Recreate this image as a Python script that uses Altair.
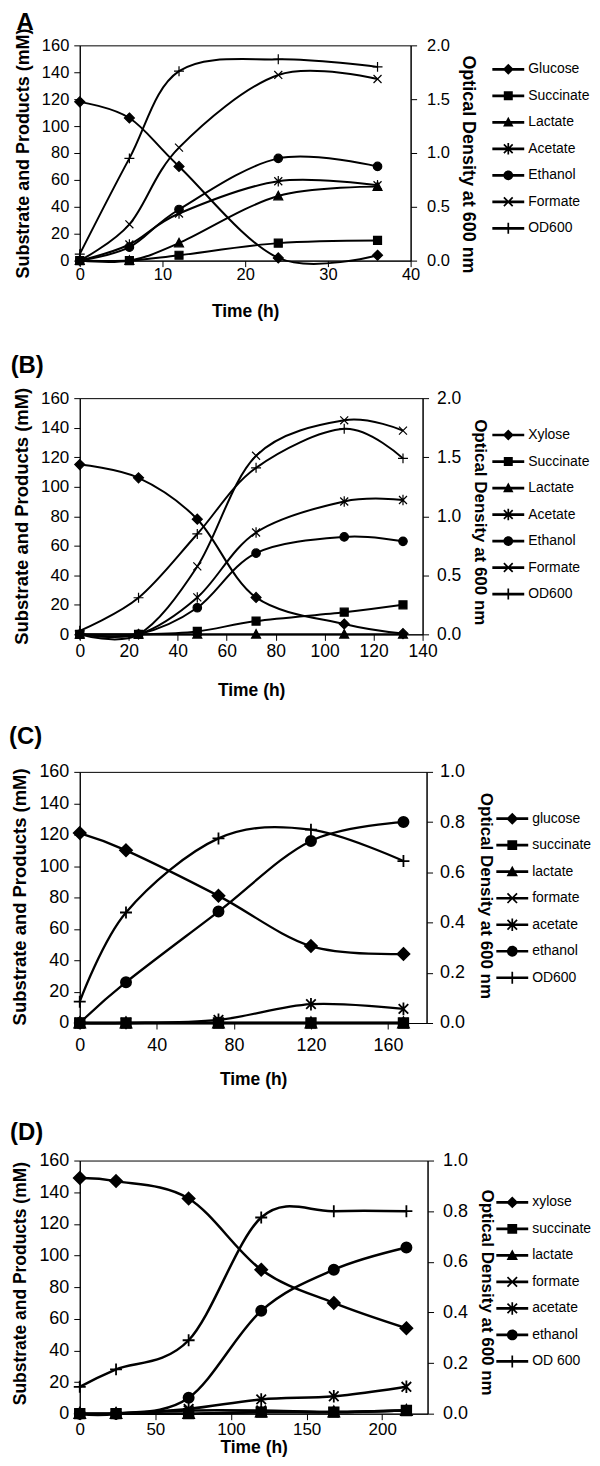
import altair as alt
import pandas as pd

FONT = "Liberation Sans"

# ---------------- data ----------------
# Panel A
a_time = [0, 6, 12, 24, 36]
a_names = ["Glucose", "Succinate", "Lactate", "Acetate", "Ethanol", "Formate", "OD600"]
a_glucose = [118, 106, 70, 2, 4]
a_succinate = [0, 0, 4, 13, 15]
a_lactate = [0, 0, 13, 48, 55]
a_acetate = [0, 12, 35, 59, 56]
a_ethanol = [0, 10, 38, 76, 70]
a_formate = [0, 27, 84, 138, 135]
a_od600 = [0.06, 0.95, 1.76, 1.87, 1.80]

# Panel B
b_time = [0, 24, 48, 72, 108, 132]
b_names = ["Xylose", "Succinate", "Lactate", "Acetate", "Ethanol", "Formate", "OD600"]
b_xylose = [115, 106, 78, 25, 7, 0.5]
b_succinate = [0, 0, 2, 9, 15, 20]
b_lactate = [0, 0, 0, 0, 0, 0]
b_acetate = [0, 0, 25, 69, 90, 91]
b_ethanol = [0, 0, 18, 55, 66, 63]
b_formate = [0, 0, 46, 121, 145, 138]
b_od600 = [0.03, 0.31, 0.85, 1.41, 1.74, 1.49]

# Panel C
c_time = [0, 24, 72, 120, 168]
c_names = ["glucose", "succinate", "lactate", "formate", "acetate", "ethanol", "OD600"]
c_glucose = [121, 110, 81, 49, 44]
c_succinate = [0, 0, 0, 0, 0]
c_lactate = [0, 0, 0, 0, 0]
c_formate = [0, 0, 0, 0, 0]
c_acetate = [0, 0, 2, 12, 9]
c_ethanol = [0, 26, 71, 116, 128]
c_od600 = [0.085, 0.44, 0.735, 0.77, 0.645]

# Panel D
d_time = [0, 24, 72, 120, 168, 216]
d_names = ["xylose", "succinate", "lactate", "formate", "acetate", "ethanol", "OD 600"]
d_xylose = [149, 147, 136, 91, 70, 54]
d_succinate = [0, 0, 0, 1, 1, 2]
d_lactate = [0, 0, 0, 1, 1, 2]
d_formate = [0, 0, 2, 2, 1, 2]
d_acetate = [0, 0, 3, 9, 11, 17]
d_ethanol = [0, 0, 10, 65, 91, 105]
d_od600 = [0.106, 0.175, 0.29, 0.775, 0.80, 0.80]

# ---------------- marker shapes (plot) ----------------
PLAIN = {
    "diamond": "M0,-1L1,0L0,1L-1,0Z",
    "square": "M-0.8,-0.8H0.8V0.8H-0.8Z",
    "triangle": "M0,-0.95L0.9,0.75H-0.9Z",
    "circle": "M-0.85,0A0.85,0.85 0 1,0 0.85,0A0.85,0.85 0 1,0 -0.85,0Z",
    "x": "M-0.8,-0.8L0.8,0.8M-0.8,0.8L0.8,-0.8",
    "ast": "M-0.8,-0.8L0.8,0.8M-0.8,0.8L0.8,-0.8M0,-1.05L0,1.05",
    "plus": "M-1,0H1M0,-1V1",
}

# ---------------- legend symbols: line + marker, all filled polygons ----------------
LEG_BOX = 26.6
LEG_SIZE = LEG_BOX ** 2
LEG_UNIT = LEG_BOX / 2.0        # px per path unit


def f(v):
    return f"{v:.3f}"


def bar(x1, y1, x2, y2, t):
    dx, dy = x2 - x1, y2 - y1
    ln = (dx * dx + dy * dy) ** 0.5
    nx, ny = -dy / ln * t, dx / ln * t
    pts = [(x1 - nx, y1 - ny), (x2 - nx, y2 - ny), (x2 + nx, y2 + ny), (x1 + nx, y1 + ny)]
    area = 0
    for i in range(4):
        xa, ya = pts[i]
        xb, yb = pts[(i + 1) % 4]
        area += xa * yb - xb * ya
    if area < 0:
        pts = pts[::-1]
    return "M" + "L".join(f"{f(x)},{f(y)}" for x, y in pts) + "Z"


def legend_path(kind, r):
    half_line = 16.0 / LEG_UNIT
    t_line = 1.35 / LEG_UNIT
    t_mk = 0.85 / LEG_UNIT
    ln = bar(-half_line, 0, half_line, 0, t_line)
    if kind == "diamond":
        return f"{ln}M0,{f(-r)}L{f(r)},0L0,{f(r)}L{f(-r)},0Z"
    if kind == "square":
        s = 0.82 * r
        return f"{ln}M{f(-s)},{f(-s)}H{f(s)}V{f(s)}H{f(-s)}Z"
    if kind == "triangle":
        return f"{ln}M0,{f(-1.0 * r)}L{f(0.95 * r)},{f(0.75 * r)}H{f(-0.95 * r)}Z"
    if kind == "circle":
        c = 0.9 * r
        return f"{ln}M{f(-c)},0A{f(c)},{f(c)} 0 1,1 {f(c)},0A{f(c)},{f(c)} 0 1,1 {f(-c)},0Z"
    s = 0.8 * r
    if kind == "x":
        return ln + bar(-s, -s, s, s, t_mk) + bar(s, -s, -s, s, t_mk)
    if kind == "ast":
        return (ln + bar(-s, -s, s, s, t_mk) + bar(s, -s, -s, s, t_mk)
                + bar(0, -1.05 * r, 0, 1.05 * r, t_mk))
    return ln + bar(0, -r, 0, r, t_mk)


def make_panel(p):
    names = p["names"]
    rows = []
    for n, vals in zip(names[:-1], p["series"]):
        for t, v in zip(p["times"], vals):
            rows.append({"time": t, "series": n, "value": v})
    left_df = pd.DataFrame(rows)
    od_df = pd.DataFrame({"time": p["times"], "series": [names[-1]] * len(p["times"]),
                          "od": p["od"]})

    plain = [PLAIN[k] for k in p["kinds"]]
    leg = [legend_path(k, p["lr"] / LEG_UNIT) for k in p["kinds"]]
    w, h = p["w"], p["h"]

    xenc = alt.X("time:Q",
                 scale=alt.Scale(domain=[0, p["xmax"]], nice=False, zero=True),
                 axis=alt.Axis(values=p["xticks"], title="Time (h)",
                               titlePadding=p["xt_pad"], tickSize=6,
                               labelPadding=p["xlp"], labelFlush=False,
                               labelFontSize=p["xfs"], titleFontSize=17.5))
    ly_enc = alt.Y("value:Q",
                   scale=alt.Scale(domain=[0, 160], nice=False),
                   axis=alt.Axis(values=list(range(0, 161, 20)), orient="left",
                                 title="Substrate and Products (mM)", tickSize=6,
                                 labelPadding=5, titlePadding=9,
                                 labelFontSize=p["lfs"], titleFontSize=p["ltfs"],
                                 titleY=p["lty"]))
    shp = alt.Shape("series:N", scale=alt.Scale(domain=names, range=plain), legend=None)

    base_l = alt.Chart(left_df)
    left = alt.layer(
        base_l.mark_line(interpolate="cardinal", color="black", strokeWidth=p["lw"])
        .encode(x=xenc, y=ly_enc, detail="series:N"),
        base_l.mark_point(filled=True, color="black", stroke="black",
                          strokeWidth=p["mstroke"], size=p["msize"], opacity=1)
        .encode(x=xenc, y=ly_enc, shape=shp),
    )

    ry_enc = alt.Y("od:Q",
                   scale=alt.Scale(domain=[0, p["odmax"]], nice=False),
                   axis=alt.Axis(values=p["odticks"], orient="right", format=".1f",
                                 title="Optical Density at 600 nm", tickSize=6,
                                 labelPadding=p["rlp"], titlePadding=p["rtp"],
                                 labelFontSize=p["rfs"], titleFontSize=p["rtfs"],
                                 titleY=p["rty"]))
    base_r = alt.Chart(od_df)
    right = alt.layer(
        base_r.mark_line(interpolate="cardinal", color="black", strokeWidth=p["lw"])
        .encode(x=xenc, y=ry_enc),
        base_r.mark_point(filled=True, color="black", stroke="black",
                          strokeWidth=p["mstroke"], size=p["msize"], opacity=1)
        .encode(x=xenc, y=ry_enc, shape=shp),
    )

    legend_layer = (
        alt.Chart(left_df)
        .transform_filter("false")
        .mark_point(filled=True, color="black", strokeWidth=0, size=LEG_SIZE, opacity=1)
        .encode(shape=alt.Shape(
            "series:N",
            scale=alt.Scale(domain=names, range=leg),
            legend=alt.Legend(orient="none", legendX=p["lx"], legendY=p["ly"], title=None,
                              labelFont=FONT, labelFontSize=14, labelColor="black",
                              symbolSize=LEG_SIZE, symbolFillColor="black",
                              symbolStrokeWidth=0, symbolOpacity=1,
                              rowPadding=5.6, columnPadding=0, labelOffset=6.5,
                              padding=0, symbolOffset=0)))
    )

    return (
        alt.layer(left, right, legend_layer)
        .resolve_scale(y="independent", shape="independent")
        .properties(width=w, height=h,
                    title=alt.TitleParams(text=p["label"], anchor="start", fontSize=24,
                                          fontWeight="bold", font=FONT, color="black",
                                          dx=p["tdx"], offset=p["toff"]))
    )


panel_a = make_panel(dict(
    label="A", tdx=2, toff=-7.5, times=a_time, names=a_names,
    series=[a_glucose, a_succinate, a_lactate, a_acetate, a_ethanol, a_formate],
    od=a_od600, kinds=["diamond", "square", "triangle", "ast", "circle", "x", "plus"],
    xmax=40, xticks=[0, 10, 20, 30, 40], odmax=2.0, odticks=[0, 0.5, 1.0, 1.5, 2.0],
    w=332, h=216, lx=416.5, ly=10.5, lr=5.5, msize=100, mstroke=1.2, lw=2.0,
    xlp=0, xt_pad=20,
    xfs=16.5, lfs=16.5, ltfs=18, lty=108, rfs=16.5, rtfs=18, rty=119, rlp=10, rtp=9))

panel_b = make_panel(dict(
    label="(B)", tdx=-2, toff=9.5, times=b_time, names=b_names,
    series=[b_xylose, b_succinate, b_lactate, b_acetate, b_ethanol, b_formate],
    od=b_od600, kinds=["diamond", "square", "triangle", "ast", "circle", "x", "plus"],
    xmax=140, xticks=[0, 20, 40, 60, 80, 100, 120, 140], odmax=2.0,
    odticks=[0, 0.5, 1.0, 1.5, 2.0],
    w=344, h=237, lx=416.5, ly=23.5, lr=5.5, msize=100, mstroke=1.2, lw=2.0,
    xlp=2, xt_pad=22,
    xfs=17.5, lfs=17, ltfs=18.5, lty=118, rfs=17.5, rtfs=17, rty=124, rlp=8, rtp=10))

panel_c = make_panel(dict(
    label="(C)", tdx=-2, toff=14, times=c_time, names=c_names,
    series=[c_glucose, c_succinate, c_lactate, c_formate, c_acetate, c_ethanol],
    od=c_od600, kinds=["diamond", "square", "triangle", "x", "ast", "circle", "plus"],
    xmax=180, xticks=[0, 40, 80, 120, 160], odmax=1.0,
    odticks=[0, 0.2, 0.4, 0.6, 0.8, 1.0],
    w=348, h=252, lx=420.5, ly=33.5, lr=6, msize=144, mstroke=1.8, lw=2.3,
    xlp=8, xt_pad=16,
    xfs=18, lfs=18, ltfs=18.5, lty=125, rfs=18, rtfs=17, rty=124, rlp=7, rtp=12))

panel_d = make_panel(dict(
    label="(D)", tdx=-2, toff=7, times=d_time, names=d_names,
    series=[d_xylose, d_succinate, d_lactate, d_formate, d_acetate, d_ethanol],
    od=d_od600, kinds=["diamond", "square", "triangle", "x", "ast", "circle", "plus"],
    xmax=230, xticks=[0, 50, 100, 150, 200], odmax=1.0,
    odticks=[0, 0.2, 0.4, 0.6, 0.8, 1.0],
    w=349, h=254, lx=420.5, ly=28.5, lr=6, msize=144, mstroke=1.8, lw=2.5,
    xlp=2, xt_pad=1,
    xfs=17, lfs=18, ltfs=17.5, lty=123, rfs=18, rtfs=17, rty=132, rlp=9, rtp=10))

chart = (
    alt.vconcat(panel_a, panel_b, panel_c, panel_d, spacing=138, bounds="flush")
    .properties(padding={"left": 0, "top": 0, "right": 0, "bottom": 0})
    .configure_view(stroke="black", strokeWidth=1)
    .configure_axis(labelFont=FONT, titleFont=FONT, titleFontWeight="bold",
                    labelColor="black", titleColor="black", domainColor="black",
                    tickColor="black", grid=False)
)

chart.save("out.html", embed_options={"renderer": "svg", "actions": False})
